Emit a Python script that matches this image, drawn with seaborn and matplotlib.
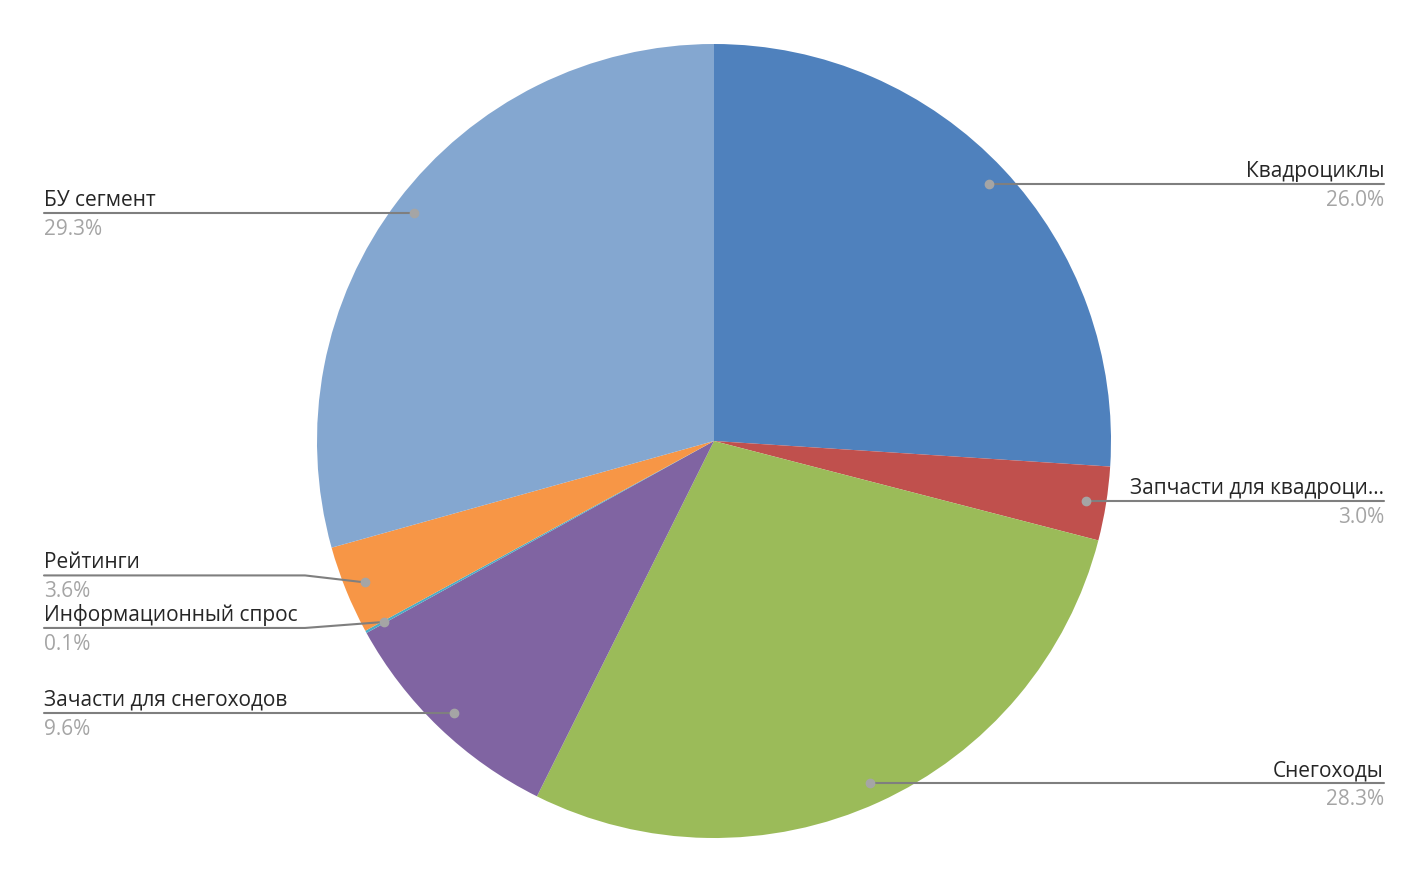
import numpy as np
import seaborn as sns
import matplotlib.pyplot as plt

sns.set_theme(style="white")
plt.rcParams['font.family'] = ['Open Sans', 'DejaVu Sans']

# Data
labels = ['Квадроциклы', 'Запчасти для квадроци...', 'Снегоходы', 'Зачасти для снегоходов',
          'Информационный спрос', 'Рейтинги', 'БУ сегмент']
shares = [26.0, 3.0, 28.3, 9.6, 0.1, 3.6, 29.3]
colors = ['#4F81BD', '#C0504D', '#9BBB59', '#8064A2', '#4BACC6', '#F79646', '#84A7D0']

# label line offsets (px) for crowded labels
y_shift = {'Рейтинги': 7, 'Информационный спрос': -6}

W, H = 1428, 882
fig = plt.figure(figsize=(W / 100, H / 100), dpi=100)
ax = fig.add_axes([0, 0, 1, 1])

cx, cy, r = 714, H - 441, 397
wedges, _ = ax.pie(shares, colors=colors, startangle=90, counterclock=False,
                   center=(cx, cy), radius=r, wedgeprops=dict(linewidth=0), frame=True)
ax.set_xlim(0, W)
ax.set_ylim(0, H)
ax.set_aspect('equal')
ax.axis('off')

line_c = '#7F7F7F'
for w, lab, s in zip(wedges, labels, shares):
    ang = np.deg2rad((w.theta1 + w.theta2) / 2)
    px = cx + 0.948 * r * np.cos(ang)
    py = cy + 0.948 * r * np.sin(ang)
    ly = py + y_shift.get(lab, 0)
    if px > cx:
        xs, ha, tx = [px, 1384], 'right', 1384
        ys = [ly, ly]
    else:
        xs, ha, tx = [44, 305, px], 'left', 44
        ys = [ly, ly, py]
    ax.plot(xs, ys, color=line_c, lw=1.5, zorder=3)
    ax.plot(px, py, 'o', color='#A5A5A5', ms=6, zorder=4)
    ax.text(tx, ly + 2, lab, ha=ha, va='bottom', fontsize=15, color='#262626')
    ax.text(tx, ly - 6, f'{s:.1f}%', ha=ha, va='top', fontsize=15, color='#A5A5A5')

plt.savefig('out.png', dpi=100)
plt.close()
